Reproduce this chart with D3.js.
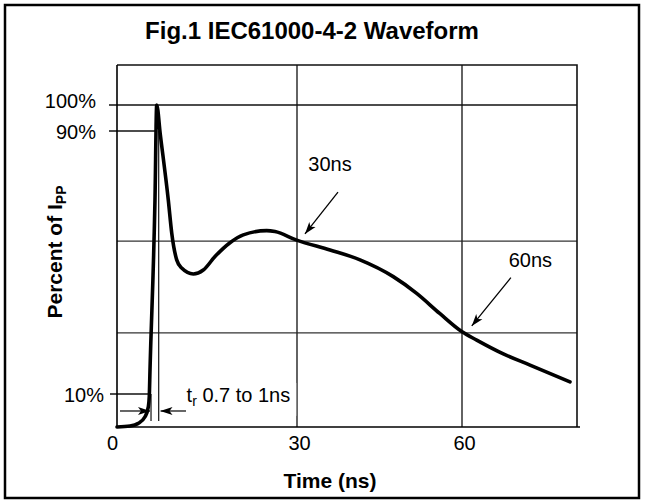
<!DOCTYPE html>
<html><head><meta charset="utf-8">
<script src="https://cdn.jsdelivr.net/npm/d3@7"></script>
<style>
body{margin:0;background:#fff}
svg{display:block}
text{font-family:"Liberation Sans",Arial,Helvetica,sans-serif;fill:#000}
</style>
</head><body>
<svg id="c" width="646" height="502"></svg>
<script>
// ---- data ----
const timeNs     = [0, 2.17, 3.55, 4.67, 5.22, 5.38, 5.5, 6.33, 6.62, 7.2, 8.55, 9.12, 9.95, 10.78, 12.72, 14.38, 16.33, 18.83, 21.05, 24.95, 26.33, 29.95, 36.0, 41.45, 47.5, 51.76, 55.95, 59.95, 62.56, 67.19, 71.83, 78.78];
const percentIpp = [0, 0.3, 1.1, 3.1, 6.1, 9.2, 17.3, 69.0, 100, 89.2, 69.0, 59.0, 50.8, 48.3, 46.5, 47.7, 51.8, 56.0, 58.4, 59.7, 59.4, 56.8, 53.8, 50.8, 45.7, 40.6, 34.5, 29.0, 26.4, 22.2, 18.8, 13.7];
const xTickValues = [0, 30, 60];
const xGridValues = [30, 60];
const yGridValues = [28.6, 56.5];
const yTickValues = [100, 90, 10];
const yTickLabels = ["100%", "90%", "10%"];
const levelLineEnds = [80, 6.4, 5.3];     // ns where each level line stops
const markLabels = ["30ns", "60ns"];
const markLabelPos = [[36, 80], [71.9, 50.8]];
const markArrowFrom = [[37.45, 71.4], [68.5, 45.4]];
const markArrowTo = [[31.45, 58.7], [61.7, 30.7]];
const riseMarkers = [5.67, 6.95];          // ns, vertical rise-time markers
const riseMarkerTop = [10, 90];            // % level where each marker starts
const riseLabel = ["t", "r", " 0.7 to 1ns"];
const titleText = "Fig.1 IEC61000-4-2 Waveform";
const xTitle = "Time (ns)";
const yTitle = ["Percent of I", "PP"];

// ---- scales ----
const x = d3.scaleLinear().domain([0, 30, 60, 80]).range([117, 297, 462, 577]);
const y = d3.scaleLinear().domain([0, 10, 90, 100, 115]).range([427, 394, 131, 105, 65]);
const xMax = 80, yMax = 115;

const svg = d3.select("#c");

// arrow marker
svg.append("defs").append("marker")
  .attr("id", "ah").attr("viewBox", "0 -5 12 10").attr("refX", 12).attr("refY", 0)
  .attr("markerWidth", 12).attr("markerHeight", 10).attr("markerUnits", "userSpaceOnUse")
  .attr("orient", "auto")
  .append("path").attr("d", "M0,-4L12,0L0,4L3,0Z").attr("fill", "#000");

// outer frame
svg.append("rect").attr("x", 5).attr("y", 5).attr("width", 634).attr("height", 493)
  .attr("fill", "none").attr("stroke", "#000").attr("stroke-width", 2.5);

// title
svg.append("text").attr("x", 312).attr("y", 39).attr("text-anchor", "middle")
  .attr("font-size", 24).attr("font-weight", "bold").text(titleText);

const g = svg.append("g");

// horizontal grid
g.selectAll(".hg").data(yGridValues).join("line")
  .attr("x1", x(0)).attr("x2", x(xMax)).attr("y1", d => y(d)).attr("y2", d => y(d))
  .attr("stroke", "#333").attr("stroke-width", 1.4);

// vertical grid
g.selectAll(".vg").data(xGridValues).join("line")
  .attr("x1", d => x(d)).attr("x2", d => x(d)).attr("y1", y(yMax)).attr("y2", y(0))
  .attr("stroke", "#222").attr("stroke-width", 1.4);

// level lines (100%, 90%, 10%) with left ticks
g.selectAll(".lv").data(yTickValues).join("line")
  .attr("x1", (d, i) => x(0) - (i === 2 ? 7 : 8)).attr("x2", (d, i) => x(levelLineEnds[i]))
  .attr("y1", d => y(d)).attr("y2", d => y(d))
  .attr("stroke", "#111").attr("stroke-width", 1.4);

// plot border
g.append("path")
  .attr("d", `M${x(0)},${y(yMax)}H${x(xMax)}V${y(0)}`)
  .attr("fill", "none").attr("stroke", "#111").attr("stroke-width", 1.6);
g.append("line").attr("x1", x(0)).attr("x2", x(xMax) + 3).attr("y1", y(0)).attr("y2", y(0))
  .attr("stroke", "#000").attr("stroke-width", 1.6);
g.append("line").attr("x1", x(0)).attr("x2", x(0)).attr("y1", y(yMax)).attr("y2", y(0))
  .attr("stroke", "#000").attr("stroke-width", 1.6);

// rise-time markers
g.selectAll(".rm").data(riseMarkers).join("line")
  .attr("x1", d => x(d)).attr("x2", d => x(d))
  .attr("y1", (d, i) => y(riseMarkerTop[i])).attr("y2", y(1.8))
  .attr("stroke", "#111").attr("stroke-width", 1.2);

// rise-time label with white backing (breaks the 30ns grid line)
const rl = svg.append("text").attr("x", x(11.6)).attr("y", y(7.6)).attr("font-size", 20);
rl.append("tspan").text(riseLabel[0]);
rl.append("tspan").attr("font-size", 14).attr("dy", 4).text(riseLabel[1]);
rl.append("tspan").attr("dy", -4).text(riseLabel[2]);
const bb = rl.node().getBBox();
svg.insert("rect", () => rl.node())
  .attr("x", bb.x).attr("y", bb.y - 1).attr("width", bb.width + 6).attr("height", bb.height + 8)
  .attr("fill", "#fff");

// rise-time arrows
svg.append("line").attr("x1", x(0.5)).attr("x2", x(5.5)).attr("y1", y(4.85)).attr("y2", y(4.85))
  .attr("stroke", "#000").attr("stroke-width", 1.2).attr("marker-end", "url(#ah)");
svg.append("line").attr("x1", x(11.5)).attr("x2", x(7.25)).attr("y1", y(4.85)).attr("y2", y(4.85))
  .attr("stroke", "#000").attr("stroke-width", 1.2).attr("marker-end", "url(#ah)");

// curve
const line = d3.line().x(d => x(d[0])).y(d => y(d[1])).curve(d3.curveMonotoneX);
svg.append("path").datum(timeNs.map((t, i) => [t, percentIpp[i]]))
  .attr("d", line).attr("fill", "none").attr("stroke", "#000")
  .attr("stroke-width", 3.6).attr("stroke-linejoin", "round").attr("stroke-linecap", "round");

// 30ns / 60ns annotations
svg.selectAll(".ma").data(markArrowFrom).join("line")
  .attr("x1", d => x(d[0])).attr("y1", d => y(d[1]))
  .attr("x2", (d, i) => x(markArrowTo[i][0])).attr("y2", (d, i) => y(markArrowTo[i][1]))
  .attr("stroke", "#000").attr("stroke-width", 1.3).attr("marker-end", "url(#ah)");
svg.selectAll(".ml").data(markLabels).join("text")
  .attr("x", (d, i) => x(markLabelPos[i][0])).attr("y", (d, i) => y(markLabelPos[i][1]))
  .attr("text-anchor", "middle").attr("dominant-baseline", "central")
  .attr("font-size", 20).text(d => d);

// y tick labels
svg.selectAll(".yl").data(yTickValues).join("text")
  .attr("x", (d, i) => x(0) - (i === 2 ? 13 : 21)).attr("y", (d, i) => y(d) + (i === 0 ? -4.5 : 1))
  .attr("text-anchor", "end").attr("dominant-baseline", "central")
  .attr("font-size", 20).text((d, i) => yTickLabels[i]);

// x axis labels via d3 axis
const xa = svg.append("g").attr("transform", `translate(0,${y(0)})`)
  .call(d3.axisBottom(x).tickValues(xTickValues).tickSize(0).tickPadding(9).tickFormat(d3.format("d")));
xa.select(".domain").remove();
xa.selectAll("text").attr("font-size", 20).attr("font-family", null).attr("fill", "#000")
  .attr("dx", d => d === 0 ? -5 : 2);

// axis titles
svg.append("text").attr("x", 330).attr("y", 488).attr("text-anchor", "middle")
  .attr("font-size", 21).attr("font-weight", "bold").text(xTitle);
const yt = svg.append("text").attr("transform", "translate(62,252) rotate(-90)")
  .attr("text-anchor", "middle").attr("font-size", 21).attr("font-weight", "bold");
yt.append("tspan").text(yTitle[0]);
yt.append("tspan").attr("font-size", 14).attr("dy", 4).text(yTitle[1]);
</script>
</body></html>
